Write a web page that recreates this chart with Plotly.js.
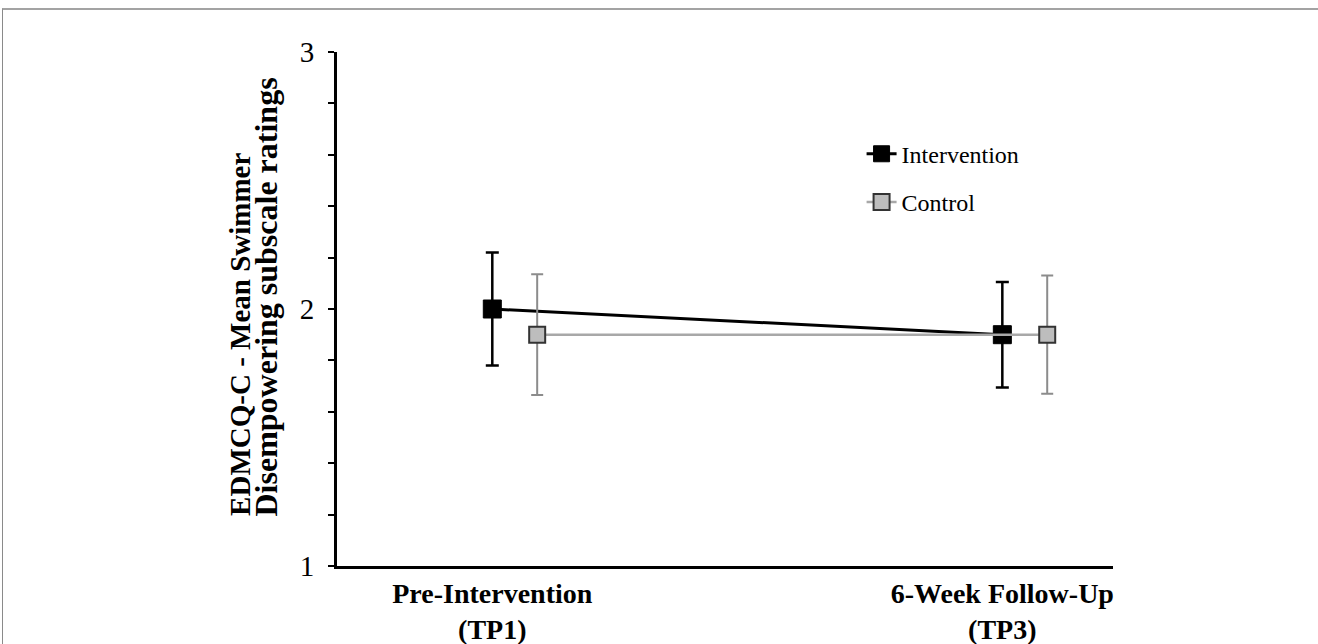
<!DOCTYPE html>
<html>
<head>
<meta charset="utf-8">
<script src="https://cdn.plot.ly/plotly-3.0.1.min.js"></script>
<style>
  html, body { margin: 0; padding: 0; background: #ffffff; }
  #chart { position: absolute; left: 0; top: 0; width: 1318px; height: 644px; }
  #frame { position: absolute; left: 2px; top: 8px; width: 1320px; height: 640px;
           border-top: 2px solid #a3a3a3; border-left: 1px solid #8a8a8a; pointer-events: none; }
</style>
</head>
<body>
<div id="chart"></div>
<div id="frame"></div>
<script>
// ---- data ----
const timepoints = ["Pre-Intervention<br>(TP1)", "6-Week Follow-Up<br>(TP3)"];
const interventionMean = [2.00, 1.90];
const interventionErr  = [0.22, 0.205];
const controlMean      = [1.90, 1.90];
const controlErr       = [0.235, 0.23];
const yTickValues = [1, 1.2, 1.4, 1.6, 1.8, 2, 2.2, 2.4, 2.6, 2.8, 3];
const yTickLabels = ["1", "", "", "", "", "2", "", "", "", "", "3"];
const yTitleLines = ["EDMCQ-C - Mean Swimmer", "Disempowering subscale ratings"];

// ---- layout helpers ----
const controlOffset = 0.088;
const xIdx = timepoints.map((_, i) => i);
const xCtrl = timepoints.map((_, i) => i + controlOffset);
const serif = "Liberation Serif, Times New Roman, serif";

const traces = [
  {
    type: "scatter", mode: "lines+markers", name: "Intervention",
    x: xIdx, y: interventionMean, legendgroup: "a",
    line: { color: "#000000", width: 3 },
    marker: { symbol: "square", size: 18, color: "#000000", line: { color: "#000000", width: 1 } },
    error_y: { type: "data", array: interventionErr, visible: true, color: "#000000", thickness: 2.5, width: 6.5 }
  },
  {
    type: "scatter", mode: "lines+markers", name: "Control",
    x: xCtrl, y: controlMean, legendgroup: "b",
    line: { color: "#a8a8a8", width: 2.5 },
    marker: { symbol: "square", size: 16, color: "#bdbdbd", line: { color: "#333333", width: 2 } },
    error_y: { type: "data", array: controlErr, visible: true, color: "#8c8c8c", thickness: 2, width: 6 }
  }
];

const annotations = yTitleLines.map((t, i) => ({
  text: "<b>" + t + "</b>", xref: "paper", yref: "paper",
  x: [-0.1245, -0.0915][i], y: 0.0934,
  xanchor: "center", yanchor: "bottom", textangle: -90, showarrow: false,
  font: { family: serif, size: [29, 32][i], color: "#000000" }
}));

const layout = {
  width: 1318, height: 644,
  margin: { l: 337, r: 205, t: 52, b: 78, pad: 0 },
  paper_bgcolor: "rgba(0,0,0,0)", plot_bgcolor: "#ffffff",
  font: { family: serif, color: "#000000" },
  showlegend: true,
  legend: {
    x: 0.676, y: 0.845, xanchor: "left", yanchor: "top",
    font: { family: serif, size: 24, color: "#000000" },
    bgcolor: "rgba(0,0,0,0)", traceorder: "grouped", tracegroupgap: 14, itemwidth: 30
  },
  xaxis: {
    range: [-0.3045, 1.217], showgrid: false, zeroline: false,
    showline: true, linecolor: "#000000", linewidth: 3,
    tickmode: "array", tickvals: xIdx, ticktext: timepoints.map(t => "<b>" + t + "</b>"),
    ticks: "", ticklabelstandoff: 0,
    tickfont: { family: serif, size: 28, color: "#000000" }, automargin: false
  },
  yaxis: {
    range: [1, 3], showgrid: false, zeroline: false,
    showline: true, linecolor: "#000000", linewidth: 3,
    tickmode: "array", tickvals: yTickValues, ticktext: yTickLabels,
    ticks: "outside", ticklen: 6, tickwidth: 2, tickcolor: "#000000", ticklabelstandoff: 8,
    tickfont: { family: serif, size: 29, color: "#000000" }, automargin: false
  },
  annotations: annotations
};

Plotly.newPlot("chart", traces, layout, { displayModeBar: false, staticPlot: true });
</script>
</body>
</html>
